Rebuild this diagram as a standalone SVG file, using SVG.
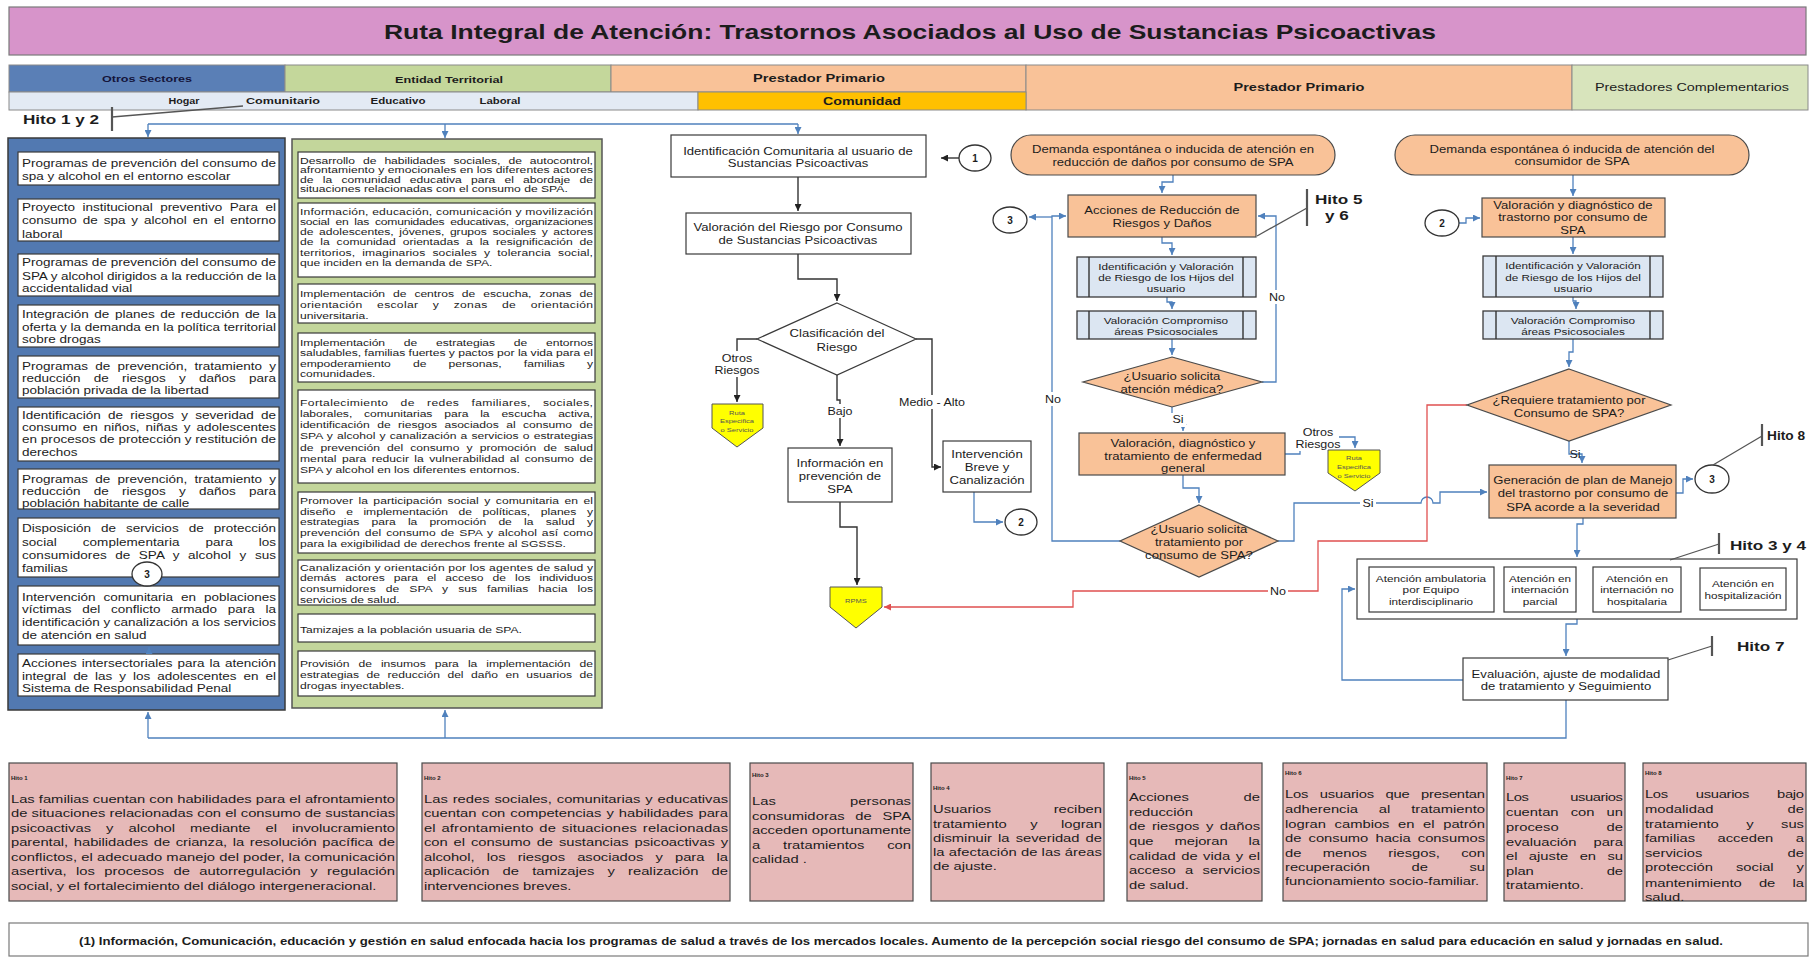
<svg xmlns="http://www.w3.org/2000/svg" width="1812" height="957" viewBox="0 0 1812 957">
<defs>
<style>
.f{font-family:"Liberation Sans",Arial,Helvetica,sans-serif;dominant-baseline:central;fill:#1c1c1c}
.s{transform-box:fill-box;transform-origin:0 50%;transform:scaleX(1.25)}
.m{transform-box:fill-box;transform-origin:50% 50%;transform:scaleX(1.25);text-anchor:middle}
.c1{font-size:10.8px}
.c2{font-size:9.7px}
.n{font-size:10.5px}
.n2{font-size:9.4px}
.h{font-size:11.8px}
.hl{font-size:6px;font-weight:bold}
.lb{font-size:10px}
.hi{font-size:13.7px;font-weight:bold}
.b{font-weight:bold}
.box{fill:#fff;stroke:#3a3a3a;stroke-width:1.2}
.pe{fill:#F9C298;stroke:#4a4a4a;stroke-width:1.2}
.pp{fill:#DCE6F2;stroke:#3a3a3a;stroke-width:1.3}
.yl{fill:#FFFF00;stroke:#555;stroke-width:1}
.hb{fill:#E6B9B8;stroke:#4a4a4a;stroke-width:1.2}
.cb{fill:#fff;stroke:#333;stroke-width:1.3}
.bl{fill:none;stroke:#4F81BD;stroke-width:1.3}
.bk{fill:none;stroke:#333;stroke-width:1.4}
.rd{fill:none;stroke:#E05050;stroke-width:1.3}
.hk{fill:none;stroke:#555;stroke-width:1.3}
.hv{fill:none;stroke:#555;stroke-width:2.2}
.wb{fill:#fff}
.hdr{stroke:#8a8a8a;stroke-width:1}
.yt{font-size:6px;fill:#555}
</style>
<marker id="ab" viewBox="0 0 10 10" refX="10" refY="5" markerWidth="7" markerHeight="7" markerUnits="userSpaceOnUse" orient="auto"><path d="M0,0 L10,5 L0,10 z" fill="#4F81BD"/></marker>
<marker id="ak" viewBox="0 0 10 10" refX="10" refY="5" markerWidth="7" markerHeight="7" markerUnits="userSpaceOnUse" orient="auto"><path d="M0,0 L10,5 L0,10 z" fill="#222"/></marker>
<marker id="ar" viewBox="0 0 10 10" refX="10" refY="5" markerWidth="7" markerHeight="7" markerUnits="userSpaceOnUse" orient="auto"><path d="M0,0 L10,5 L0,10 z" fill="#E05050"/></marker>
</defs>
<rect width="1812" height="957" fill="#fff"/>

<g id="title">
<rect x="9" y="7" width="1797" height="48" fill="#D794CA" stroke="#7a7a7a" stroke-width="1.2"/>
<text class="f b" x="910" y="31" text-anchor="middle" font-size="21" textLength="1052" lengthAdjust="spacingAndGlyphs">Ruta Integral de Atención: Trastornos Asociados al Uso de Sustancias Psicoactivas</text>
</g>

<g id="header">
<rect class="hdr" x="9" y="65" width="276" height="27" fill="#5A7FB6"/>
<rect class="hdr" x="285" y="65" width="326" height="27" fill="#C4D79B"/>
<rect class="hdr" x="611" y="65" width="415" height="27" fill="#F9C298"/>
<rect class="hdr" x="1026" y="65" width="546" height="45" fill="#F9C298"/>
<rect class="hdr" x="1572" y="65" width="236" height="45" fill="#D8E4BC"/>
<rect class="hdr" x="9" y="92" width="689" height="18" fill="#E3EAF4"/>
<rect class="hdr" x="698" y="92" width="328" height="18" fill="#FFC000"/>
<text class="f b" x="147" y="79" text-anchor="middle" font-size="9" textLength="90" lengthAdjust="spacingAndGlyphs" style="fill:#14143a">Otros  Sectores</text>
<text class="f b" x="449" y="80" text-anchor="middle" font-size="9" textLength="108" lengthAdjust="spacingAndGlyphs">Entidad Territorial</text>
<text class="f b" x="819" y="78" text-anchor="middle" font-size="10.5" textLength="132" lengthAdjust="spacingAndGlyphs">Prestador Primario</text>
<text class="f b" x="1299" y="87" text-anchor="middle" font-size="10.5" textLength="131" lengthAdjust="spacingAndGlyphs">Prestador Primario</text>
<text class="f" x="1692" y="87" text-anchor="middle" font-size="10.5" textLength="194" lengthAdjust="spacingAndGlyphs">Prestadores Complementarios</text>
<text class="f b" x="184" y="101" text-anchor="middle" font-size="9" textLength="31" lengthAdjust="spacingAndGlyphs">Hogar</text>
<text class="f b" x="283" y="101" text-anchor="middle" font-size="9" textLength="74" lengthAdjust="spacingAndGlyphs">Comunitario</text>
<text class="f b" x="398" y="101" text-anchor="middle" font-size="9" textLength="55" lengthAdjust="spacingAndGlyphs">Educativo</text>
<text class="f b" x="500" y="101" text-anchor="middle" font-size="9" textLength="41" lengthAdjust="spacingAndGlyphs">Laboral</text>
<text class="f b" x="862" y="101" text-anchor="middle" font-size="10.5" textLength="78" lengthAdjust="spacingAndGlyphs">Comunidad</text>
</g>

<g id="hito12">
<text class="f s hi" x="23" y="119">Hito 1 y 2</text>
<path class="hv" d="M112,107 V131"/>
<path class="hk" d="M112,117 L243,106"/>
</g>

<g id="col-otros-sectores">
<rect x="8" y="138" width="277" height="572" fill="#5279B1" stroke="#3a3a3a" stroke-width="1.5"/>
<rect class="box" x="18" y="152" width="261" height="33"/>
<text class="f s c1" x="22" y="163" textLength="203.2">Programas de prevención del consumo de</text>
<text class="f s c1" x="22" y="176">spa y alcohol en el entorno escolar</text>
<rect class="box" x="18" y="199" width="261" height="42"/>
<text class="f s c1" x="22" y="207" textLength="203.2" word-spacing="3">Proyecto institucional preventivo Para el</text>
<text class="f s c1" x="22" y="220" textLength="203.2" word-spacing="1.7">consumo de spa y alcohol en el entorno</text>
<text class="f s c1" x="22" y="234">laboral</text>
<rect class="box" x="18" y="254" width="261" height="42"/>
<text class="f s c1" x="22" y="262" textLength="203.2">Programas de prevención del consumo de</text>
<text class="f s c1" x="22" y="276" textLength="203.2">SPA y alcohol dirigidos a la reducción de la</text>
<text class="f s c1" x="22" y="288">accidentalidad vial</text>
<rect class="box" x="18" y="305" width="261" height="42"/>
<text class="f s c1" x="22" y="314" textLength="203.2" word-spacing="1.5">Integración de planes de reducción de la</text>
<text class="f s c1" x="22" y="327" textLength="203.2">oferta y la demanda en la política territorial</text>
<text class="f s c1" x="22" y="339">sobre drogas</text>
<rect class="box" x="18" y="356" width="261" height="42"/>
<text class="f s c1" x="22" y="366" textLength="203.2" word-spacing="2.8">Programas de prevención, tratamiento y</text>
<text class="f s c1" x="22" y="378" textLength="203.2" word-spacing="7.6">reducción de riesgos y daños para</text>
<text class="f s c1" x="22" y="390">población privada de la libertad</text>
<rect class="box" x="18" y="407" width="261" height="54"/>
<text class="f s c1" x="22" y="415" textLength="203.2" word-spacing="2.8">Identificación de riesgos y severidad de</text>
<text class="f s c1" x="22" y="427" textLength="203.2" word-spacing="1.8">consumo en niños, niñas y adolescentes</text>
<text class="f s c1" x="22" y="439" textLength="203.2">en procesos de protección y restitución de</text>
<text class="f s c1" x="22" y="452">derechos</text>
<rect class="box" x="18" y="469" width="261" height="40"/>
<text class="f s c1" x="22" y="479" textLength="203.2" word-spacing="2.8">Programas de prevención, tratamiento y</text>
<text class="f s c1" x="22" y="491" textLength="203.2" word-spacing="7.6">reducción de riesgos y daños para</text>
<text class="f s c1" x="22" y="503">población habitante de calle</text>
<rect class="box" x="18" y="518" width="261" height="59"/>
<text class="f s c1" x="22" y="528" textLength="203.2" word-spacing="5">Disposición de servicios de protección</text>
<text class="f s c1" x="22" y="542" textLength="203.2" word-spacing="17.7">social complementaria para los</text>
<text class="f s c1" x="22" y="555" textLength="203.2" word-spacing="3.7">consumidores de SPA y alcohol y sus</text>
<text class="f s c1" x="22" y="568">familias</text>
<rect class="box" x="18" y="586" width="261" height="59"/>
<text class="f s c1" x="22" y="597" textLength="203.2" word-spacing="3.4">Intervención comunitaria en poblaciones</text>
<text class="f s c1" x="22" y="609" textLength="203.2" word-spacing="5.6">víctimas del conflicto armado para la</text>
<text class="f s c1" x="22" y="622" textLength="203.2">identificación y canalización a los servicios</text>
<text class="f s c1" x="22" y="635">de atención en salud</text>
<rect class="box" x="18" y="654" width="261" height="42"/>
<text class="f s c1" x="22" y="663" textLength="203.2" word-spacing="1">Acciones intersectoriales para la atención</text>
<text class="f s c1" x="22" y="676" textLength="203.2" word-spacing="2.6">integral de las y los adolescentes en el</text>
<text class="f s c1" x="22" y="688">Sistema de Responsabilidad Penal</text>
</g>

<g id="c3-left">
<ellipse class="cb" cx="147" cy="574" rx="15" ry="12"/>
<text class="f b" x="147" y="574" text-anchor="middle" font-size="10">3</text>
</g>

<g id="col-entidad-territorial">
<rect x="292" y="139" width="310" height="569" fill="#C3D69B" stroke="#555" stroke-width="1.5"/>
<rect class="box" x="298" y="152" width="297" height="46"/>
<text class="f s c2" x="300" y="160" textLength="234.4" word-spacing="3.7">Desarrollo de habilidades sociales, de autocontrol,</text>
<text class="f s c2" x="300" y="169.5" textLength="234.4">afrontamiento y emocionales en los diferentes actores</text>
<text class="f s c2" x="300" y="179" textLength="234.4" word-spacing="4.7">de la comunidad educativa para el abordaje de</text>
<text class="f s c2" x="300" y="188.5">situaciones relacionadas con el consumo de SPA.</text>
<rect class="box" x="298" y="203" width="297" height="74"/>
<text class="f s c2" x="300" y="211" textLength="234.4">Información, educación, comunicación y movilización</text>
<text class="f s c2" x="300" y="221" textLength="234.4" word-spacing="2.3">social en las comunidades educativas, organizaciones</text>
<text class="f s c2" x="300" y="231" textLength="234.4" word-spacing="1.8">de adolescentes, jóvenes, grupos sociales y actores</text>
<text class="f s c2" x="300" y="241.5" textLength="234.4" word-spacing="2.8">de la comunidad orientadas a la resignificación de</text>
<text class="f s c2" x="300" y="252" textLength="234.4" word-spacing="2.9">territorios, imaginarios sociales y tolerancia social,</text>
<text class="f s c2" x="300" y="262.5">que inciden en la demanda de SPA.</text>
<rect class="box" x="298" y="284" width="297" height="39"/>
<text class="f s c2" x="300" y="293" textLength="234.4" word-spacing="3.7">Implementación de centros de escucha, zonas de</text>
<text class="f s c2" x="300" y="304" textLength="234.4" word-spacing="8.7">orientación escolar y zonas de orientación</text>
<text class="f s c2" x="300" y="315">universitaria.</text>
<rect class="box" x="298" y="333" width="297" height="49"/>
<text class="f s c2" x="300" y="342" textLength="234.4" word-spacing="12.4">Implementación de estrategias de entornos</text>
<text class="f s c2" x="300" y="352.5" textLength="234.4">saludables, familias fuertes y pactos por la vida para el</text>
<text class="f s c2" x="300" y="363" textLength="234.4" word-spacing="15">empoderamiento de personas, familias y</text>
<text class="f s c2" x="300" y="373.5">comunidades.</text>
<rect class="box" x="298" y="390" width="297" height="93"/>
<text class="f s c2" x="300" y="402" textLength="234.4" word-spacing="6.8">Fortalecimiento de redes familiares, sociales,</text>
<text class="f s c2" x="300" y="413" textLength="234.4" word-spacing="6.8">laborales, comunitarias para la escucha activa,</text>
<text class="f s c2" x="300" y="424" textLength="234.4" word-spacing="3.3">identificación de riesgos asociados al consumo de</text>
<text class="f s c2" x="300" y="435.5" textLength="234.4" word-spacing="0.6">SPA y alcohol y canalización a servicios o estrategias</text>
<text class="f s c2" x="300" y="447" textLength="234.4" word-spacing="3">de prevención del consumo y promoción de salud</text>
<text class="f s c2" x="300" y="458" textLength="234.4" word-spacing="1.6">mental para reducir la vulnerabilidad al consumo de</text>
<text class="f s c2" x="300" y="469.5">SPA y alcohol en los diferentes entornos.</text>
<rect class="box" x="298" y="492" width="297" height="61"/>
<text class="f s c2" x="300" y="500" textLength="234.4" word-spacing="1.6">Promover la participación social y comunitaria en el</text>
<text class="f s c2" x="300" y="511" textLength="234.4" word-spacing="5.8">diseño e implementación de políticas, planes y</text>
<text class="f s c2" x="300" y="521.5" textLength="234.4" word-spacing="7.1">estrategias para la promoción de la salud y</text>
<text class="f s c2" x="300" y="532" textLength="234.4" word-spacing="1.2">prevención del consumo de SPA y alcohol así como</text>
<text class="f s c2" x="300" y="543">para la exigibilidad de derechos frente al SGSSS.</text>
<rect class="box" x="298" y="560" width="297" height="45"/>
<text class="f s c2" x="300" y="567" textLength="234.4">Canalización y orientación por los agentes de salud y</text>
<text class="f s c2" x="300" y="577.5" textLength="234.4" word-spacing="4.6">demás actores para el acceso de los individuos</text>
<text class="f s c2" x="300" y="588.5" textLength="234.4" word-spacing="5.3">consumidores de SPA y sus familias hacia los</text>
<text class="f s c2" x="300" y="599">servicios de salud.</text>
<rect class="box" x="298" y="614" width="297" height="28"/>
<text class="f s c2" x="300" y="629">Tamizajes a la población usuaria de SPA.</text>
<rect class="box" x="298" y="651" width="297" height="45"/>
<text class="f s c2" x="300" y="663" textLength="234.4" word-spacing="4.6">Provisión de insumos para la implementación de</text>
<text class="f s c2" x="300" y="674" textLength="234.4" word-spacing="3.3">estrategias de reducción del daño en usuarios de</text>
<text class="f s c2" x="300" y="685">drogas inyectables.</text>
</g>

<g id="connectors">
<path class="bl" d="M148,124 H798"/>
<path class="bl" d="M148,124 V137" marker-end="url(#ab)"/>
<path class="bl" d="M445,124 V138" marker-end="url(#ab)"/>
<path class="bl" d="M798,124 V134" marker-end="url(#ab)"/>
<path class="bl" d="M149,653 V647" marker-end="url(#ab)"/>
<path class="bk" d="M959,158 H941" marker-end="url(#ak)"/>
<path class="bk" d="M798,177 V211" marker-end="url(#ak)"/>
<path class="bk" d="M798,254 V279 H837 V301" marker-end="url(#ak)"/>
<path class="bk" d="M757,339 H737 V402" marker-end="url(#ak)"/>
<path class="bk" d="M837,375 V400 H840 V446" marker-end="url(#ak)"/>
<path class="bk" d="M916,339 H932 V467 H941" marker-end="url(#ak)"/>
<path class="bk" d="M840,502 V527 H857 V585" marker-end="url(#ak)"/>
<path class="bl" d="M974,492 V522 H1003" marker-end="url(#ab)"/>
<path class="bl" d="M1173,175 V182 H1162 V193" marker-end="url(#ab)"/>
<path class="bl" d="M1162,237 V243 H1172 V255" marker-end="url(#ab)"/>
<path class="bl" d="M1167,297 V302 H1172 V309" marker-end="url(#ab)"/>
<path class="bl" d="M1172,339 V355" marker-end="url(#ab)"/>
<path class="bl" d="M1172,407 V424 H1183 V431" marker-end="url(#ab)"/>
<path class="bl" d="M1183,475 V488 H1199 V503" marker-end="url(#ab)"/>
<path class="bl" d="M1120,541 H1052 V216 H1066" marker-end="url(#ab)"/>
<path class="bl" d="M1052,217 H1029" marker-end="url(#ab)"/>
<path class="bl" d="M1262,382 H1276 V216 H1258" marker-end="url(#ab)"/>
<path class="bl" d="M1285,454 H1300 V437 H1355 V448" marker-end="url(#ab)"/>
<path class="bl" d="M1278,541 H1294 V503 H1421 A6,6 0 0 1 1433,503 H1440 V492 H1487" marker-end="url(#ab)"/>
<path class="bl" d="M1573,175 V196" marker-end="url(#ab)"/>
<path class="bl" d="M1459,223 H1466 V218 H1480" marker-end="url(#ab)"/>
<path class="bl" d="M1573,237 V254" marker-end="url(#ab)"/>
<path class="bl" d="M1573,297 V301 H1576 V309" marker-end="url(#ab)"/>
<path class="bl" d="M1573,339 V352 H1569 V367" marker-end="url(#ab)"/>
<path class="bl" d="M1569,441 V454 H1582 V463" marker-end="url(#ab)"/>
<path class="bl" d="M1676,493 H1683 V479 H1693" marker-end="url(#ab)"/>
<path class="bl" d="M1583,518 V524 H1577 V557" marker-end="url(#ab)"/>
<path class="bl" d="M1577,619 V624 H1566 V656" marker-end="url(#ab)"/>
<path class="bl" d="M1463,680 H1342 V589 H1355" marker-end="url(#ab)"/>
<path class="bl" d="M1566,700 V738 H148"/>
<path class="bl" d="M148,738 V712" marker-end="url(#ab)"/>
<path class="bl" d="M445,738 V710" marker-end="url(#ab)"/>
<path class="rd" d="M1467,405 H1427 V541 H1318 V591 H1073 V607 H884" marker-end="url(#ar)"/>
<rect class="wb" x="718" y="351" width="38" height="26"/>
<text class="f m lb" x="737" y="358">Otros</text>
<text class="f m lb" x="737" y="370">Riesgos</text>
<rect class="wb" x="826" y="404" width="28" height="14"/>
<text class="f m lb" x="840" y="411">Bajo</text>
<rect class="wb" x="902" y="395" width="62" height="14"/>
<text class="f m lb" x="932" y="402">Medio - Alto</text>
<rect class="wb" x="1043" y="392" width="20" height="14"/>
<text class="f m lb" x="1053" y="399">No</text>
<rect class="wb" x="1267" y="290" width="20" height="14"/>
<text class="f m lb" x="1277" y="297">No</text>
<rect class="wb" x="1170" y="413" width="16" height="14"/>
<text class="f m lb" x="1178" y="419">Si</text>
<rect class="wb" x="1299" y="425" width="40" height="26"/>
<text class="f m lb" x="1318" y="432">Otros</text>
<text class="f m lb" x="1318" y="444">Riesgos</text>
<rect class="wb" x="1360" y="496" width="16" height="14"/>
<text class="f m lb" x="1368" y="503">Si</text>
<rect class="wb" x="1268" y="584" width="20" height="14"/>
<text class="f m lb" x="1278" y="591">No</text>
<text class="f m lb" x="1575" y="454">Si</text>
</g>

<g id="identificacion-comunitaria">
<rect class="box" x="671" y="135" width="255" height="42"/>
<text class="f m n" x="798" y="151">Identificación Comunitaria al usuario de</text>
<text class="f m n" x="798" y="163">Sustancias Psicoactivas</text>
</g>
<g id="c1">
<ellipse class="cb" cx="975" cy="158" rx="16" ry="13"/>
<text class="f b" x="975" y="158" text-anchor="middle" font-size="10">1</text>
</g>
<g id="valoracion-riesgo">
<rect class="box" x="686" y="213" width="225" height="41"/>
<text class="f m n" x="798" y="227">Valoración del Riesgo por Consumo</text>
<text class="f m n" x="798" y="240">de Sustancias Psicoactivas</text>
</g>
<g id="clasificacion">
<polygon class="box" points="837,303 916,339 837,375 757,339"/>
<text class="f m n" x="837" y="333">Clasificación del</text>
<text class="f m n" x="837" y="347">Riesgo</text>
</g>
<g id="ruta1">
<polygon class="yl" points="712,404 763,404 763,428 737,447 712,428"/>
<text class="f m yt" x="737" y="413">Ruta</text>
<text class="f m yt" x="737" y="421">Especifica</text>
<text class="f m yt" x="737" y="430">o Servicio</text>
</g>
<g id="informacion">
<rect class="box" x="788" y="448" width="104" height="54"/>
<text class="f m n" x="840" y="463">Información en</text>
<text class="f m n" x="840" y="476">prevención de</text>
<text class="f m n" x="840" y="489">SPA</text>
</g>
<g id="intervencion">
<rect class="box" x="943" y="441" width="88" height="51"/>
<text class="f m n" x="987" y="454">Intervención</text>
<text class="f m n" x="987" y="467">Breve y</text>
<text class="f m n" x="987" y="480">Canalización</text>
</g>
<g id="c2-mid">
<ellipse class="cb" cx="1021" cy="522" rx="16" ry="13"/>
<text class="f b" x="1021" y="522" text-anchor="middle" font-size="10">2</text>
</g>
<g id="rpms">
<polygon class="yl" points="830,587 882,587 882,607 856,628 830,607"/>
<text class="f m yt" x="856" y="601">RPMS</text>
</g>

<g id="demanda1">
<rect class="pe" x="1011" y="135" width="324" height="40" rx="20"/>
<text class="f m n" x="1173" y="149">Demanda espontánea o inducida de atención en</text>
<text class="f m n" x="1173" y="162">reducción de daños por consumo de SPA</text>
</g>
<g id="c3-mid">
<ellipse class="cb" cx="1010" cy="220" rx="17" ry="13"/>
<text class="f b" x="1010" y="220" text-anchor="middle" font-size="10">3</text>
</g>
<g id="acciones">
<rect class="pe" x="1068" y="195" width="188" height="42"/>
<text class="f m n" x="1162" y="210">Acciones de Reducción de</text>
<text class="f m n" x="1162" y="223">Riesgos y Daños</text>
</g>
<g id="hito56">
<path class="hv" d="M1307,189 V226"/>
<path class="hk" d="M1307,208 L1257,236"/>
<text class="f s hi" x="1315" y="199">Hito 5</text>
<text class="f s hi" x="1325" y="215">y 6</text>
</g>
<g id="ident-hijos-1">
<rect class="pp" x="1077" y="257" width="179" height="40"/>
<path class="bk" d="M1089,257 V297 M1243,257 V297"/>
<text class="f m n2" x="1166" y="266">Identificación y Valoración</text>
<text class="f m n2" x="1166" y="277">de Riesgo de los Hijos del</text>
<text class="f m n2" x="1166" y="288">usuario</text>
</g>
<g id="compromiso-1">
<rect class="pp" x="1077" y="311" width="179" height="28"/>
<path class="bk" d="M1089,311 V339 M1243,311 V339"/>
<text class="f m n2" x="1166" y="320">Valoración Compromiso</text>
<text class="f m n2" x="1166" y="331">áreas Psicosociales</text>
</g>
<g id="dec-atencion">
<polygon class="pe" points="1172,357 1262,382 1172,407 1083,382"/>
<text class="f m n" x="1172" y="376">¿Usuario solicita</text>
<text class="f m n" x="1172" y="389">atención médica?</text>
</g>
<g id="valoracion-general">
<rect class="pe" x="1079" y="433" width="206" height="42"/>
<text class="f m n" x="1183" y="443">Valoración, diagnóstico y</text>
<text class="f m n" x="1183" y="456">tratamiento de enfermedad</text>
<text class="f m n" x="1183" y="468">general</text>
</g>
<g id="ruta2">
<polygon class="yl" points="1328,450 1380,450 1380,473 1355,491 1328,473"/>
<text class="f m yt" x="1354" y="458">Ruta</text>
<text class="f m yt" x="1354" y="467">Especifica</text>
<text class="f m yt" x="1354" y="476">o Servicio</text>
</g>
<g id="dec-tratamiento">
<polygon class="pe" points="1199,505 1278,541 1199,577 1120,541"/>
<text class="f m n" x="1199" y="529">¿Usuario solicita</text>
<text class="f m n" x="1199" y="542">tratamiento por</text>
<text class="f m n" x="1199" y="555">consumo de SPA?</text>
</g>

<g id="demanda2">
<rect class="pe" x="1395" y="135" width="354" height="40" rx="20"/>
<text class="f m n" x="1572" y="149">Demanda espontánea ó inducida de atención  del</text>
<text class="f m n" x="1572" y="161">consumidor de SPA</text>
</g>
<g id="c2-right">
<ellipse class="cb" cx="1442" cy="223" rx="17" ry="13"/>
<text class="f b" x="1442" y="223" text-anchor="middle" font-size="10">2</text>
</g>
<g id="valoracion-trastorno">
<rect class="pe" x="1482" y="198" width="183" height="39"/>
<text class="f m n" x="1573" y="205">Valoración y diagnóstico de</text>
<text class="f m n" x="1573" y="217">trastorno por consumo de</text>
<text class="f m n" x="1573" y="230">SPA</text>
</g>
<g id="ident-hijos-2">
<rect class="pp" x="1483" y="256" width="180" height="41"/>
<path class="bk" d="M1496,256 V297 M1650,256 V297"/>
<text class="f m n2" x="1573" y="265">Identificación y Valoración</text>
<text class="f m n2" x="1573" y="277">de Riesgo de los Hijos del</text>
<text class="f m n2" x="1573" y="288">usuario</text>
</g>
<g id="compromiso-2">
<rect class="pp" x="1483" y="311" width="180" height="28"/>
<path class="bk" d="M1496,311 V339 M1650,311 V339"/>
<text class="f m n2" x="1573" y="320">Valoración Compromiso</text>
<text class="f m n2" x="1573" y="331">áreas Psicosociales</text>
</g>
<g id="dec-requiere">
<polygon class="pe" points="1569,369 1671,405 1569,441 1467,405"/>
<text class="f m n" x="1569" y="400">¿Requiere tratamiento por</text>
<text class="f m n" x="1569" y="413">Consumo de SPA?</text>
</g>
<g id="generacion">
<rect class="pe" x="1489" y="465" width="187" height="53"/>
<text class="f m n" x="1583" y="480">Generación de plan de Manejo</text>
<text class="f m n" x="1583" y="493">del trastorno por consumo de</text>
<text class="f m n" x="1583" y="507">SPA acorde a la severidad</text>
</g>
<g id="c3-right">
<ellipse class="cb" cx="1712" cy="479" rx="17" ry="14"/>
<text class="f b" x="1712" y="479" text-anchor="middle" font-size="10">3</text>
</g>
<g id="hito8">
<path class="hv" d="M1762,424 V446"/>
<path class="hk" d="M1762,436 L1713,465"/>
<text class="f hi" x="1767" y="435">Hito 8</text>
</g>
<g id="modalidades">
<rect class="box" x="1357" y="559" width="440" height="60"/>
<rect class="box" x="1369" y="567" width="125" height="45"/>
<text class="f m n2" x="1431" y="578">Atención ambulatoria</text>
<text class="f m n2" x="1431" y="589">por Equipo</text>
<text class="f m n2" x="1431" y="601">interdisciplinario</text>
<rect class="box" x="1504" y="567" width="72" height="45"/>
<text class="f m n2" x="1540" y="578">Atención en</text>
<text class="f m n2" x="1540" y="589">internación</text>
<text class="f m n2" x="1540" y="601">parcial</text>
<rect class="box" x="1593" y="567" width="88" height="45"/>
<text class="f m n2" x="1637" y="578">Atención en</text>
<text class="f m n2" x="1637" y="589">internación no</text>
<text class="f m n2" x="1637" y="601">hospitalaria</text>
<rect class="box" x="1700" y="568" width="86" height="42"/>
<text class="f m n2" x="1743" y="583">Atención en</text>
<text class="f m n2" x="1743" y="595">hospitalización</text>
</g>
<g id="hito34">
<path class="hv" d="M1719,533 V554"/>
<path class="hk" d="M1719,544 L1670,560"/>
<text class="f s hi" x="1730" y="545">Hito 3 y 4</text>
</g>
<g id="evaluacion">
<rect class="box" x="1463" y="658" width="205" height="42"/>
<text class="f m n" x="1566" y="674">Evaluación, ajuste de modalidad</text>
<text class="f m n" x="1566" y="686">de tratamiento y Seguimiento</text>
</g>
<g id="hito7">
<path class="hv" d="M1712,636 V656"/>
<path class="hk" d="M1712,646 L1668,660"/>
<text class="f s hi" x="1737" y="646">Hito 7</text>
</g>

<g id="hito-box-1">
<rect class="hb" x="9" y="763" width="388" height="138"/>
<text class="f hl" x="11" y="778">Hito 1</text>
<text class="f s h" x="11" y="799" textLength="307.2">Las familias cuentan con habilidades para el afrontamiento</text>
<text class="f s h" x="11" y="813.5" textLength="307.2">de situaciones relacionadas con el consumo de sustancias</text>
<text class="f s h" x="11" y="828" textLength="307.2" word-spacing="8.8">psicoactivas y alcohol mediante el involucramiento</text>
<text class="f s h" x="11" y="842.5" textLength="307.2" word-spacing="1.2">parental, habilidades de crianza, la resolución pacífica de</text>
<text class="f s h" x="11" y="857" textLength="307.2">conflictos, el adecuado manejo del poder, la comunicación</text>
<text class="f s h" x="11" y="871.5" textLength="307.2" word-spacing="4.3">asertiva, los procesos de autorregulación y regulación</text>
<text class="f s h" x="11" y="886">social, y el fortalecimiento del diálogo intergeneracional.</text>
</g>
<g id="hito-box-2">
<rect class="hb" x="422" y="763" width="308" height="138"/>
<text class="f hl" x="424" y="778">Hito 2</text>
<text class="f s h" x="424" y="799" textLength="243.2" word-spacing="0.7">Las redes sociales, comunitarias y educativas</text>
<text class="f s h" x="424" y="813.5" textLength="243.2" word-spacing="0.7">cuentan con competencias y habilidades para</text>
<text class="f s h" x="424" y="828" textLength="243.2" word-spacing="1.2">el afrontamiento de situaciones relacionadas</text>
<text class="f s h" x="424" y="842.5" textLength="243.2" word-spacing="1.4">con el consumo de sustancias psicoactivas y</text>
<text class="f s h" x="424" y="857" textLength="243.2" word-spacing="6.5">alcohol, los riesgos asociados y para la</text>
<text class="f s h" x="424" y="871.5" textLength="243.2" word-spacing="7.3">aplicación de tamizajes y realización de</text>
<text class="f s h" x="424" y="886">intervenciones breves.</text>
</g>
<g id="hito-box-3">
<rect class="hb" x="750" y="763" width="163" height="138"/>
<text class="f hl" x="752" y="775">Hito 3</text>
<text class="f s h" x="752" y="801" textLength="127.2" word-spacing="56">Las personas</text>
<text class="f s h" x="752" y="816" textLength="127.2" word-spacing="5.2">consumidoras de SPA</text>
<text class="f s h" x="752" y="830" textLength="127.2">acceden oportunamente</text>
<text class="f s h" x="752" y="845" textLength="127.2" word-spacing="15">a tratamientos con</text>
<text class="f s h" x="752" y="859">calidad .</text>
</g>
<g id="hito-box-4">
<rect class="hb" x="931" y="763" width="173" height="138"/>
<text class="f hl" x="933" y="788">Hito 4</text>
<text class="f s h" x="933" y="809" textLength="135.2" word-spacing="46.7">Usuarios reciben</text>
<text class="f s h" x="933" y="824" textLength="135.2" word-spacing="15.5">tratamiento y logran</text>
<text class="f s h" x="933" y="838" textLength="135.2" word-spacing="1.6">disminuir la severidad de</text>
<text class="f s h" x="933" y="852" textLength="135.2">la afectación de las áreas</text>
<text class="f s h" x="933" y="866">de ajuste.</text>
</g>
<g id="hito-box-5">
<rect class="hb" x="1127" y="763" width="135" height="138"/>
<text class="f hl" x="1129" y="778">Hito 5</text>
<text class="f s h" x="1129" y="797" textLength="104.8" word-spacing="40.5">Acciones de</text>
<text class="f s h" x="1129" y="812">reducción</text>
<text class="f s h" x="1129" y="826" textLength="104.8" word-spacing="1.9">de riesgos y daños</text>
<text class="f s h" x="1129" y="841" textLength="104.8" word-spacing="13.4">que mejoran la</text>
<text class="f s h" x="1129" y="856" textLength="104.8" word-spacing="1.1">calidad de vida y el</text>
<text class="f s h" x="1129" y="870" textLength="104.8" word-spacing="4.2">acceso a servicios</text>
<text class="f s h" x="1129" y="885">de salud.</text>
</g>
<g id="hito-box-6">
<rect class="hb" x="1283" y="763" width="204" height="138"/>
<text class="f hl" x="1285" y="773">Hito 6</text>
<text class="f s h" x="1285" y="794" textLength="160" word-spacing="6.1">Los usuarios que presentan</text>
<text class="f s h" x="1285" y="809" textLength="160" word-spacing="13.4">adherencia al tratamiento</text>
<text class="f s h" x="1285" y="824" textLength="160" word-spacing="3.6">logran cambios en el patrón</text>
<text class="f s h" x="1285" y="838" textLength="160" word-spacing="2.4">de consumo hacia consumos</text>
<text class="f s h" x="1285" y="853" textLength="160" word-spacing="13.8">de menos riesgos, con</text>
<text class="f s h" x="1285" y="867" textLength="160" word-spacing="30">recuperación de su</text>
<text class="f s h" x="1285" y="881">funcionamiento socio-familiar.</text>
</g>
<g id="hito-box-7">
<rect class="hb" x="1504" y="763" width="121" height="138"/>
<text class="f hl" x="1506" y="778">Hito 7</text>
<text class="f s h" x="1506" y="797" textLength="93.6" word-spacing="30.6">Los usuarios</text>
<text class="f s h" x="1506" y="812" textLength="93.6" word-spacing="6.4">cuentan con un</text>
<text class="f s h" x="1506" y="827" textLength="93.6" word-spacing="35">proceso de</text>
<text class="f s h" x="1506" y="842" textLength="93.6" word-spacing="10.3">evaluación para</text>
<text class="f s h" x="1506" y="856" textLength="93.6" word-spacing="5.8">el ajuste en su</text>
<text class="f s h" x="1506" y="871" textLength="93.6" word-spacing="55">plan de</text>
<text class="f s h" x="1506" y="885">tratamiento.</text>
</g>
<g id="hito-box-8">
<rect class="hb" x="1643" y="763" width="163" height="138"/>
<text class="f hl" x="1645" y="773">Hito 8</text>
<text class="f s h" x="1645" y="794" textLength="127.2" word-spacing="19.4">Los usuarios bajo</text>
<text class="f s h" x="1645" y="809" textLength="127.2" word-spacing="56">modalidad de</text>
<text class="f s h" x="1645" y="824" textLength="127.2" word-spacing="18.7">tratamiento y sus</text>
<text class="f s h" x="1645" y="838" textLength="127.2" word-spacing="14.7">familias acceden a</text>
<text class="f s h" x="1645" y="853" textLength="127.2" word-spacing="65">servicios de</text>
<text class="f s h" x="1645" y="867" textLength="127.2" word-spacing="15.1">protección social y</text>
<text class="f s h" x="1645" y="883" textLength="127.2" word-spacing="10.5">mantenimiento de la</text>
<text class="f s h" x="1645" y="897">salud.</text>
</g>

<g id="footer">
<rect x="9" y="923" width="1799" height="33" fill="#fff" stroke="#7a7a7a" stroke-width="1.2"/>
<text class="f b" x="901" y="941" text-anchor="middle" font-size="11" textLength="1644" lengthAdjust="spacingAndGlyphs">(1) Información, Comunicación, educación y gestión en salud enfocada hacia los programas de salud a través de los mercados locales. Aumento de la percepción social riesgo del consumo de SPA; jornadas en salud para educación en salud y jornadas en salud.</text>
</g>
</svg>
